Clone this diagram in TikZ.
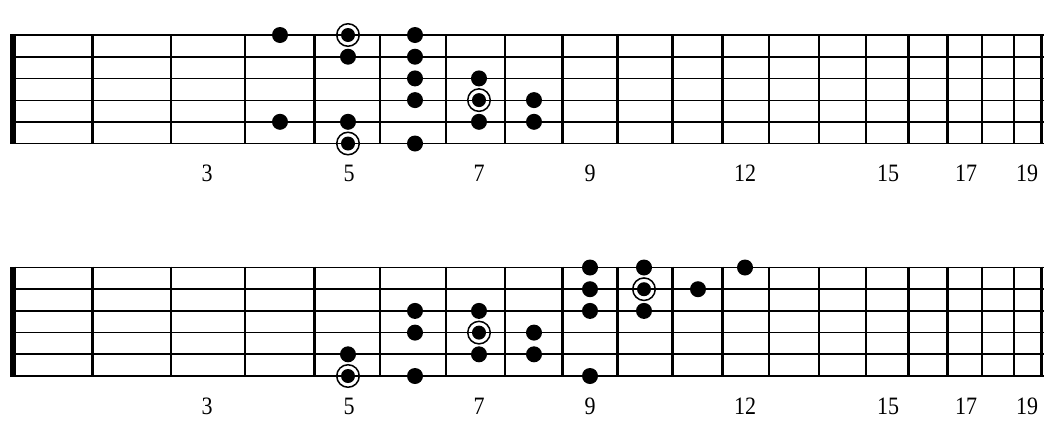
\documentclass[tikz,border=0pt]{standalone}
\usepackage{fontspec}
\setmainfont{Liberation Serif}
\begin{document}
\begin{tikzpicture}[x=1pt,y=-1pt,
  stringline/.style={line width=#1},
  fretline/.style={line width=2.5pt},
  nutline/.style={line width=6pt},
  dot/.style={circle,fill=black,inner sep=0pt,minimum size=16pt},
  rootdot/.style={circle,fill=black,inner sep=0pt,minimum size=14pt},
  ring/.style={circle,draw=black,line width=1.5pt,inner sep=0pt,minimum size=22.5pt},
  fretnum/.style={font=\fontsize{25}{25}\selectfont,inner sep=0pt,xscale=0.88}]
\useasboundingbox (0,0) rectangle (1053,437);
\fill[white] (0,0) rectangle (1053,437);
\foreach \b/\yo in {t/35,b/267.5}{
  % strings
  \foreach \s/\w in {0/1.8pt,1/1.8pt,2/1.2pt,3/1.2pt,4/1.8pt,5/1.5pt}
    \draw[stringline=\w] (13,\yo+\s*21.7) -- (1043.5,\yo+\s*21.7);
  % frets
  \foreach \f in {92.7,171,245,314.3,380,446,505,562.7,617.3,672.3,722.3,769,819,866,908.3,947.3,982,1013.8,1041.3}
    \draw[fretline] (\f,\yo-0.9) -- (\f,\yo+109.4);
  % nut
  \draw[nutline] (13,\yo-0.9) -- (13,\yo+109.4);
  % fret numbers
  \foreach \n/\x in {3/207,5/349,7/479,9/590,12/745,15/888,17/966,19/1027}
    \node[fretnum] (\b-lab\n) at (\x,\yo+138.5) {\n};
}
% dots: string/fret
\def\fretx#1{{0,0,0,0,280,348,415,479,534,590,644,698,745}[#1]}
\foreach \s/\f in {1/4,1/6,2/5,2/6,3/6,3/7,4/6,4/8,5/4,5/5,5/7,5/8,6/6}{
  \pgfmathsetmacro\dx{\fretx{\f}}
  \node[dot] (t-d\s-\f) at (\dx,35+\s*21.7-21.7) {};
}
\foreach \s/\f in {1/5,4/7,6/5}{
  \pgfmathsetmacro\dx{\fretx{\f}}
  \node[ring] (t-r\s-\f) at (\dx,35+\s*21.7-21.7) {};
  \node[rootdot] (t-d\s-\f) at (\dx,35+\s*21.7-21.7) {};
}
\foreach \s/\f in {1/9,1/10,1/12,2/9,2/11,3/6,3/7,3/9,3/10,4/6,4/8,5/5,5/7,5/8,6/6,6/9}{
  \pgfmathsetmacro\dx{\fretx{\f}}
  \node[dot] (b-d\s-\f) at (\dx,267.5+\s*21.7-21.7) {};
}
\foreach \s/\f in {2/10,4/7,6/5}{
  \pgfmathsetmacro\dx{\fretx{\f}}
  \node[ring] (b-r\s-\f) at (\dx,267.5+\s*21.7-21.7) {};
  \node[rootdot] (b-d\s-\f) at (\dx,267.5+\s*21.7-21.7) {};
}
\end{tikzpicture}
\end{document}
